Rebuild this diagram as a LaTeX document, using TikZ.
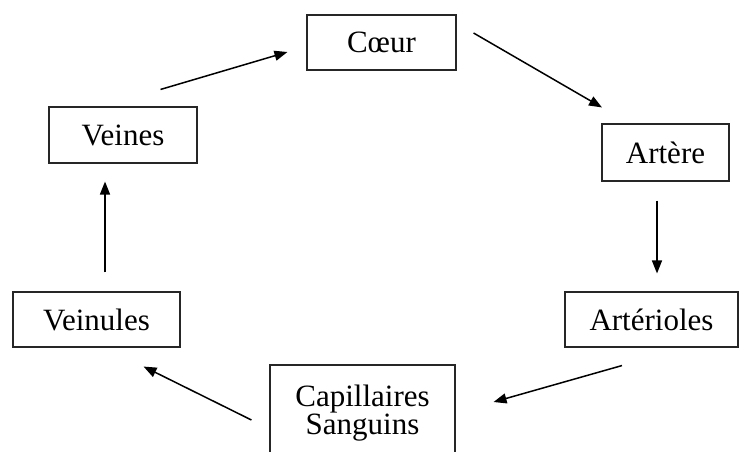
\documentclass[tikz,border=0pt]{standalone}
\usepackage{fontspec}
\setmainfont{Liberation Serif}
\usetikzlibrary{arrows.meta,calc}
\begin{document}
\begin{tikzpicture}[x=1pt,y=-1pt,
  box/.style={draw=black!85,line width=1.1pt,inner sep=0pt,align=center,
    font=\fontsize{31}{28}\selectfont},
  conn/.style={line width=1.5pt,-{Triangle[length=13pt,width=10pt]}}]
\useasboundingbox (0,0) rectangle (739,451);
\node[box,minimum width=149pt,minimum height=55pt] (coeur) at (381.5,42.5) {Cœur};
\node[box,minimum width=127pt,minimum height=57pt] (artere) at (665.5,152.5) {Artère};
\node[box,minimum width=173pt,minimum height=55pt] (arterioles) at (651.5,319.5) {Artérioles};
\node[box,minimum width=185pt,minimum height=96pt] (capil) at (362.5,413) {\raisebox{3pt}{Capillaires}\\\raisebox{3pt}{Sanguins}};
\node[box,minimum width=167pt,minimum height=55pt] (veinules) at (96.5,319.5) {Veinules};
\node[box,minimum width=148pt,minimum height=56pt] (veines) at (123,135) {Veines};
\draw[conn] ($(veines.north east)+(-37,-17)$) -- ($(coeur.west)+(-19,9.5)$);
\draw[conn] ($(coeur.east)+(17,-9.5)$) -- ($(artere.north)+(-63.5,-16)$);
\draw[conn] ($(artere.south)+(-8.5,19)$) -- ($(arterioles.north)+(5.5,-18)$);
\draw[conn] ($(arterioles.south)+(-29.5,18)$) -- ($(capil.east)+(38,-11)$);
\draw[conn] ($(capil.west)+(-18,7)$) -- ($(veinules.south east)+(-37,19)$);
\draw[conn] ($(veinules.north)+(8.5,-19)$) -- ($(veines.south)+(-18,18)$);
\end{tikzpicture}
\end{document}
